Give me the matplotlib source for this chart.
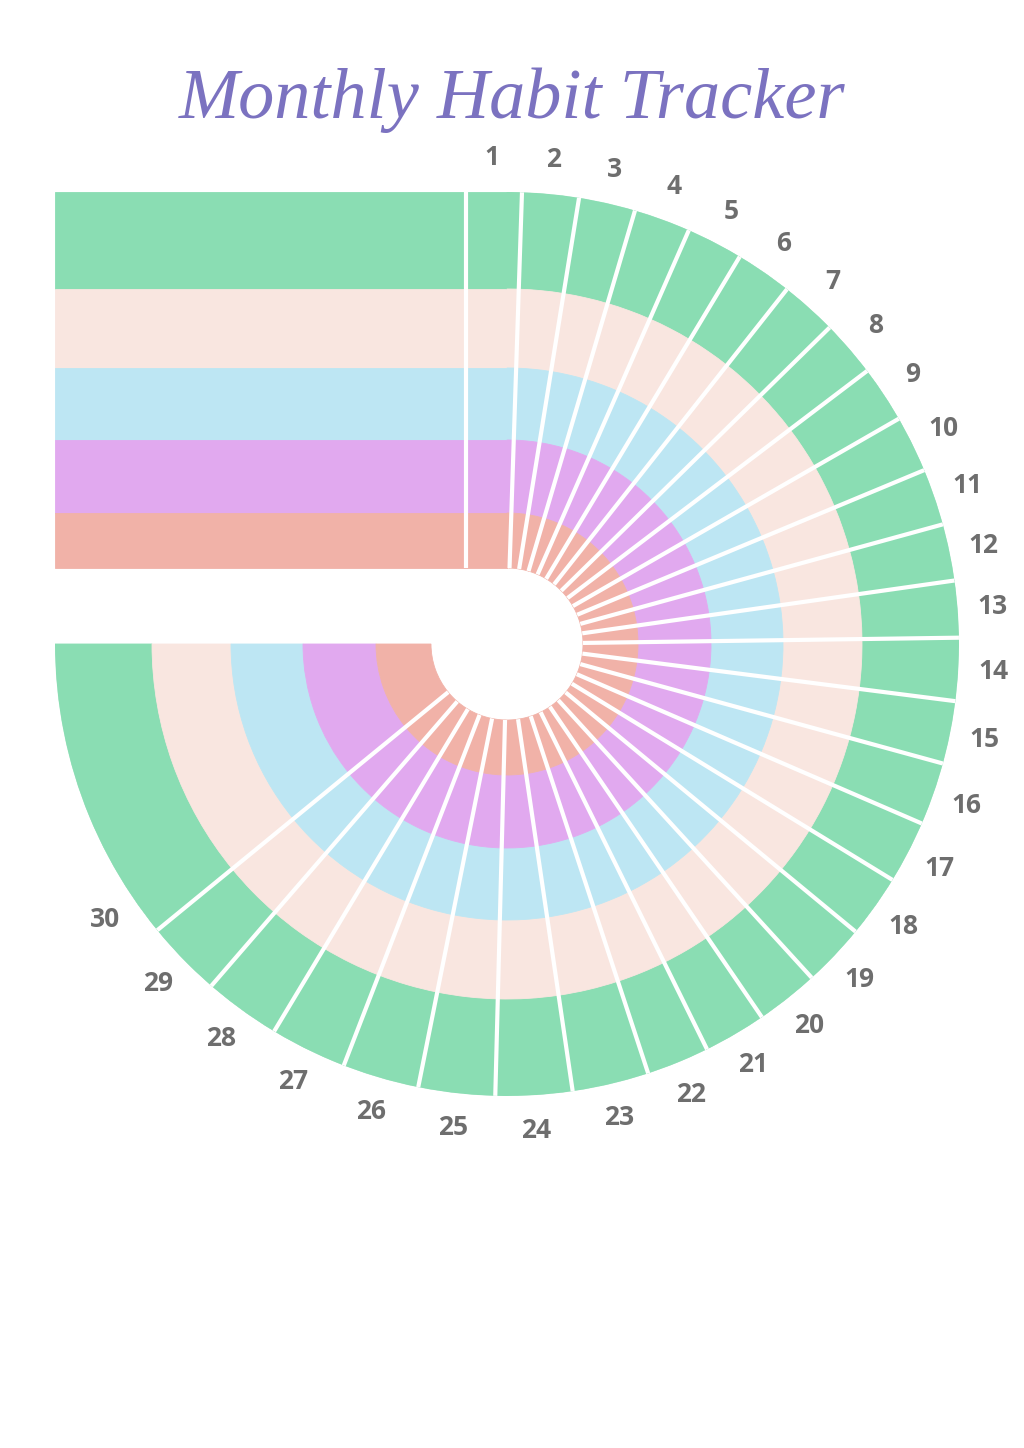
import numpy as np
import matplotlib
matplotlib.use("Agg")
import matplotlib.pyplot as plt

# ---- data ----
title = "Monthly Habit Tracker"
days = list(range(1, 31))
habits = ["Habit 1", "Habit 2", "Habit 3", "Habit 4", "Habit 5"]  # outer ring -> inner ring
habit_colors = ["#8ADDB3", "#F9E6E0", "#BDE6F3", "#E1A9EF", "#F1B2A8"]

# ---- layout (pixels of the 1024x1448 page) ----
W, H = 1024, 1448
cx, cy = 507, 644                          # centre of the rings
ring_edges = [452, 355, 276, 204, 131, 76]  # outer -> inner radius
band_left = 55                              # left end of the habit bands
divider_x = 466
label_r = 487

# spoke after day k, degrees clockwise from 12 o'clock
# (the spokes spread out a little towards the bottom of the dial)
spoke_k = [0, 1, 13, 22, 29, 30]
spoke_deg = [-5.4, 1.9, 89.2, 161.8, 230.7, 240.5]


def main():
    edges = np.interp(np.arange(len(days) + 1), spoke_k, spoke_deg)
    label_deg = (edges[:-1] + edges[1:]) / 2

    # cells: first day starts at 12 o'clock, last day runs to 9 o'clock
    lo = edges[:-1].copy()
    hi = edges[1:].copy()
    lo[0] = 0
    hi[-1] = 270
    mid = np.radians((lo + hi) / 2)
    wid = np.radians(hi - lo)

    fig = plt.figure(figsize=(W / 100, H / 100), dpi=100)

    # flat page axes for the habit bands on the upper left
    bg = fig.add_axes([0, 0, 1, 1])
    bg.set_xlim(0, W)
    bg.set_ylim(H, 0)
    bg.axis("off")

    R = ring_edges[0]
    pax = fig.add_axes([(cx - R) / W, (H - cy - R) / H, 2 * R / W, 2 * R / H],
                       projection="polar")
    pax.set_theta_zero_location("N")
    pax.set_theta_direction(-1)
    pax.set_ylim(0, R)
    pax.axis("off")

    for i, (name, color) in enumerate(zip(habits, habit_colors)):
        r_out, r_in = ring_edges[i], ring_edges[i + 1]
        bg.barh(cy - (r_out + r_in) / 2, cx - band_left, left=band_left,
                height=r_out - r_in, color=color, edgecolor=color, lw=0.6)
        pax.bar(mid, r_out - r_in, width=wid, bottom=r_in,
                color=color, edgecolor=color, lw=0.6, label=name)

    bg.vlines(divider_x, cy - R, cy - ring_edges[-1], colors="white", lw=3)
    pax.vlines(np.radians(edges[1:len(days)]), ring_edges[-1], R + 1,
               colors="white", lw=3)

    for d, a in zip(days, label_deg):
        pax.text(np.radians(a), label_r, str(d), ha="center", va="center",
                 fontsize=19, fontweight="bold", color="#6E6E6E",
                 family="Open Sans")

    fig.text(0.5, 1 - 100 / H, title, ha="center", va="center", fontsize=52,
             style="italic", color="#7B72C0", family="Liberation Serif")

    fig.savefig("out.png", dpi=100)


if __name__ == "__main__":
    main()
